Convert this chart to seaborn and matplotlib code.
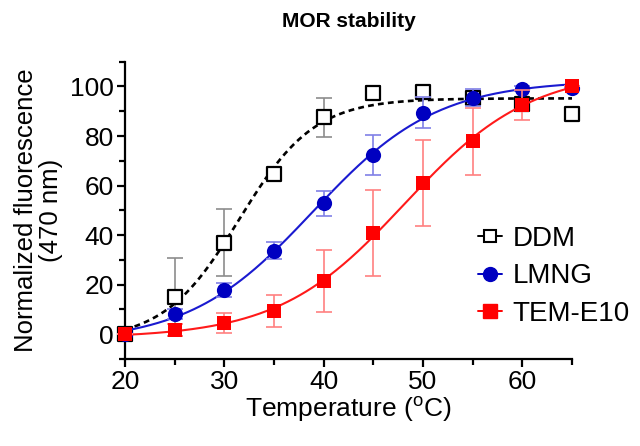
import numpy as np
import pandas as pd
import matplotlib
matplotlib.use("Agg")
import matplotlib.pyplot as plt
from matplotlib.lines import Line2D
import seaborn as sns

# ---------------- data ----------------
temps = [20, 25, 30, 35, 40, 45, 50, 55, 60, 65]
ddm_mean = [0, 15, 37, 64.5, 87.5, 97.5, 97.7, 95.5, 93, 89]
ddm_err = [0, 15.7, 13.5, 2, 8, 2.5, 2.5, 2, 2, 0]
lmng_mean = [0, 8, 17.8, 33.7, 52.8, 72.3, 89.4, 95.5, 99, 99.5]
lmng_err = [0, 2, 2.8, 3.4, 5.2, 8.2, 6.3, 3.5, 1, 0]
tem_mean = [0, 1.7, 4.4, 9.4, 21.4, 40.8, 60.9, 77.9, 92.5, 100]
tem_err = [0, 2.5, 4, 6.5, 12.4, 17.5, 17.4, 13.6, 6, 0]

series_names = ["DDM", "LMNG", "TEM-E10"]
title = "MOR stability"
xlabel = r"Temperature ($\mathregular{^{o}}$C)"
ylabel = "Normalized fluorescence\n(470 nm)"
xticks = [20, 30, 40, 50, 60]
yticks = [0, 20, 40, 60, 80, 100]


def boltz(p, x):
    b, t, v, s = p
    return b + (t - b) / (1.0 + np.exp((v - x) / s))


def fit_boltz(x, y):
    x = np.asarray(x, float)
    y = np.asarray(y, float)
    p = np.array([0.0, 100.0, np.mean(x), 4.0])
    lam = 1e-2
    for _ in range(500):
        r = y - boltz(p, x)
        J = np.zeros((len(x), 4))
        for k in range(4):
            dp = np.zeros(4)
            dp[k] = 1e-6 * max(1.0, abs(p[k]))
            J[:, k] = (boltz(p + dp, x) - boltz(p - dp, x)) / (2 * dp[k])
        A = J.T @ J
        g = J.T @ r
        step = np.linalg.solve(A + lam * np.diag(np.diag(A) + 1e-9), g)
        pn = p + step
        if np.sum((y - boltz(pn, x)) ** 2) < np.sum(r ** 2):
            p = pn
            lam *= 0.5
        else:
            lam *= 4
    return p


rows = []
for name, m, e in zip(series_names, [ddm_mean, lmng_mean, tem_mean],
                      [ddm_err, lmng_err, tem_err]):
    for t, mv, ev in zip(temps, m, e):
        rows.append({"series": name, "T": t, "val": mv, "err": ev})
df = pd.DataFrame(rows)

xfine = np.linspace(20, 65, 300)
fit_rows = []
for name in series_names:
    sub = df[df.series == name]
    p = fit_boltz(sub["T"], sub["val"])
    for xv, yv in zip(xfine, boltz(p, xfine)):
        fit_rows.append({"series": name, "T": xv, "val": yv})
fdf = pd.DataFrame(fit_rows)

# ---------------- styling ----------------
sns.set_theme(style="ticks")
plt.rcParams["font.family"] = ["Liberation Sans", "DejaVu Sans"]
plt.rcParams["mathtext.fontset"] = "custom"
plt.rcParams["mathtext.rm"] = "Liberation Sans"
for key in ["text.color", "axes.labelcolor", "xtick.color", "ytick.color",
            "axes.edgecolor"]:
    plt.rcParams[key] = "black"

fig = plt.figure(figsize=(6.4, 4.46), dpi=100)
ax = fig.add_axes([125 / 640, 1 - 359 / 446, (572 - 125) / 640, (359 - 61.7) / 446])

marker_col = {"DDM": "black", "LMNG": "#0000c0", "TEM-E10": "#ff0000"}
line_col = {"DDM": "black", "LMNG": "#1a1ad0", "TEM-E10": "#ff1a1a"}
err_col = {"DDM": "#8c8c8c", "LMNG": "#8080e6", "TEM-E10": "#ff8080"}
markers = {"DDM": "s", "LMNG": "o", "TEM-E10": "s"}
zbase = {"DDM": 3, "LMNG": 5, "TEM-E10": 7}

for name in series_names:
    sub = df[df.series == name]
    fsub = fdf[fdf.series == name]
    z = zbase[name]
    ls = (0, (2.2, 1.6)) if name == "DDM" else "-"
    lw = 1.9 if name == "DDM" else 1.5
    sns.lineplot(data=fsub, x="T", y="val", ax=ax, color=line_col[name],
                 linewidth=lw, linestyle=ls, zorder=z, legend=False)
    ax.errorbar(sub["T"], sub["val"], yerr=sub["err"], fmt="none",
                ecolor=err_col[name], elinewidth=1.2, capsize=5.5,
                capthick=1.2, zorder=z, clip_on=False)
    if name == "DDM":
        ax.scatter(sub["T"], sub["val"], marker="s", s=105, facecolors="white",
                   edgecolors="black", linewidths=1.6, zorder=z + 1, clip_on=False)
    else:
        sns.scatterplot(data=sub, x="T", y="val", ax=ax, marker=markers[name],
                        s=120 if name == "LMNG" else 115,
                        color=marker_col[name], edgecolor=marker_col[name],
                        linewidth=0, zorder=z + 1, legend=False, clip_on=False)

ax.set_xlim(20, 65)
ax.set_ylim(-10, 110)
ax.set_xticks(xticks)
ax.set_yticks(yticks)
ax.set_xticks([25, 35, 45, 55, 65], minor=True)
ax.set_yticks([-10, 10, 30, 50, 70, 90, 110], minor=True)
ax.tick_params(axis="both", which="major", length=6, width=1.6,
               labelsize=19, pad=2, color="black", labelcolor="black")
ax.tick_params(axis="both", which="minor", length=4, width=1.6, color="black")
sns.despine(ax=ax)
for sp in ["left", "bottom"]:
    ax.spines[sp].set_linewidth(1.6)
    ax.spines[sp].set_color("black")

ax.set_xlabel(xlabel, fontsize=19, labelpad=1, color="black")
ax.set_ylabel(ylabel, fontsize=18.5, labelpad=5, linespacing=1.05, color="black")
ax.set_title(title, fontsize=15, fontweight="bold", pad=25, color="black")

handles = [
    Line2D([], [], color="black", marker="s", markerfacecolor="white",
           markeredgecolor="black", markersize=9, markeredgewidth=1.5, linewidth=1.4),
    Line2D([], [], color="#0000c0", marker="o", markersize=10, linewidth=1.4),
    Line2D([], [], color="#ff0000", marker="s", markersize=10, linewidth=1.4),
]
leg = ax.legend(handles, series_names, loc="center left", bbox_to_anchor=(0.79, 0.278),
                frameon=False, fontsize=20, handlelength=0.85, handletextpad=0.4,
                labelspacing=0.42, borderaxespad=0, borderpad=0)
for t in leg.get_texts():
    t.set_color("black")

fig.savefig("out.png", dpi=100)
